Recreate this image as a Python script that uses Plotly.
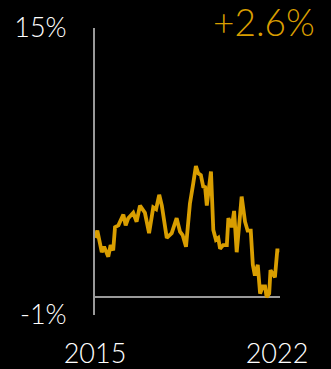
import plotly.graph_objects as go

years = [2015.00, 2015.09, 2015.26, 2015.35, 2015.51, 2015.60, 2015.70, 2015.77, 2015.90,
         2016.09, 2016.18, 2016.28, 2016.47, 2016.60, 2016.73, 2016.92,
         2017.08, 2017.24, 2017.35, 2017.47, 2017.57, 2017.76, 2017.95,
         2018.14, 2018.27, 2018.37, 2018.50, 2018.65, 2018.78, 2018.88, 2018.97,
         2019.07, 2019.17, 2019.23, 2019.30, 2019.40, 2019.46, 2019.55, 2019.65, 2019.74, 2019.81, 2019.93,
         2020.07, 2020.13, 2020.26, 2020.35, 2020.45, 2020.55, 2020.64, 2020.77, 2020.87, 2020.99,
         2021.07, 2021.15, 2021.26, 2021.35, 2021.45, 2021.54, 2021.60, 2021.70, 2021.75, 2021.83, 2021.92,
         2022.01, 2022.09]
values = [3.3, 3.7, 2.5, 2.8, 2.25, 2.9, 2.6, 3.9, 4.0,
          4.6, 4.0, 4.4, 4.7, 4.2, 5.1, 4.7,
          3.56, 5.0, 4.9, 5.7, 5.1, 3.3, 3.56,
          4.4, 3.65, 3.46, 2.8, 5.2, 6.35, 7.3, 6.9,
          6.8, 6.1, 6.2, 5.1, 6.1, 7.0, 3.74, 3.2, 3.3, 2.7, 2.9,
          2.9, 4.4, 3.9, 4.8, 2.5, 4.1, 5.6, 4.2, 3.7, 3.7,
          1.8, 1.2, 1.8, 0.2, 0.6, 0.6, 0.0, 0.2, 1.5, 1.3, 1.1,
          2.6, 2.6]

y_ticks = [-1, 15]
y_tick_labels = ["-1%", "15%"]
x_ticks = [2015, 2022]
x_tick_labels = ["2015", "2022"]
headline = "+2.6%"

GOLD = "#D99E00"
FONT = "Lato"

fig = go.Figure()
fig.add_trace(go.Scatter(x=years, y=values, mode="lines",
                         line=dict(color=GOLD, width=3.8), hoverinfo="skip"))

fig.update_layout(
    width=331, height=369,
    margin=dict(l=95, r=51, t=28, b=54),
    paper_bgcolor="black", plot_bgcolor="black",
    showlegend=False,
    font=dict(family=FONT, color="white", size=26, weight=300),
    xaxis=dict(range=[2015, 2022.115], tickvals=x_ticks, ticktext=x_tick_labels,
               showgrid=False, zeroline=False, showline=False, ticks="", automargin=False,
               ticklabelstandoff=20, tickfont=dict(size=27, color="white", weight=300)),
    yaxis=dict(range=[-1, 15], tickvals=y_ticks, ticktext=y_tick_labels,
               showgrid=False, zeroline=True, zerolinecolor="#9a9a9a", zerolinewidth=2,
               showline=True, linecolor="#9a9a9a", linewidth=2, ticks="", automargin=False,
               ticklabelstandoff=21, tickfont=dict(size=27, color="white", weight=300)),
    annotations=[dict(text=headline, xref="paper", yref="paper", x=1.2, y=1.024,
                      xanchor="right", yanchor="middle", showarrow=False,
                      font=dict(size=37, color=GOLD, family=FONT, weight=300))],
)

fig.write_html("out.html")
